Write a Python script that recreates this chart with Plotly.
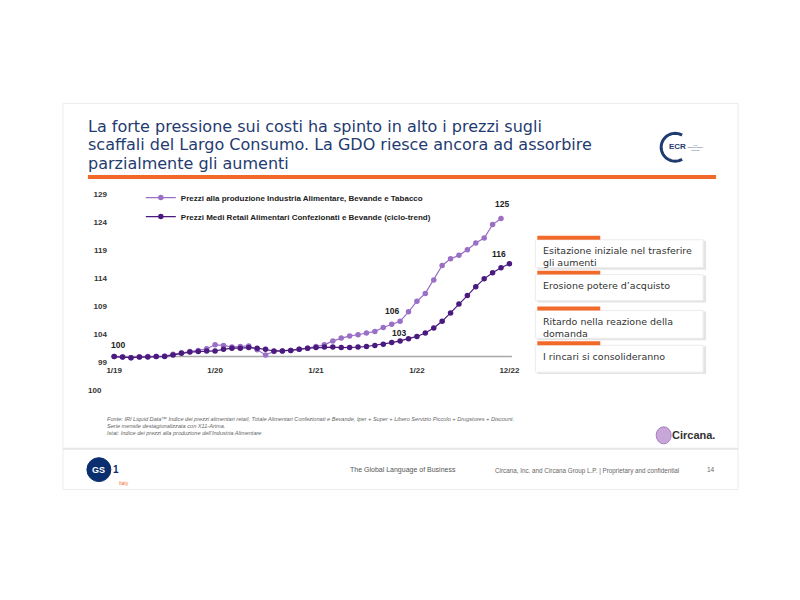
import plotly.graph_objects as go
import math

# ---------------- data ----------------
months = [f"{m}/{y}" for y in (19, 20, 21, 22) for m in range(1, 13)]

produzione = [100.0, 99.9, 99.8, 99.9, 100.0, 100.0, 100.1, 100.4, 100.7, 100.9,
              101.1, 101.4, 102.1, 102.0, 101.7, 101.8, 101.9, 101.2, 100.3, 100.9,
              101.0, 101.1, 101.3, 101.5, 101.8, 102.1, 102.8, 103.3, 103.7, 103.9,
              104.2, 104.5, 105.2, 105.8, 106.3, 108.0, 109.9, 111.3, 113.7, 116.3,
              117.5, 118.1, 119.1, 120.3, 121.2, 123.6, 124.7]

retail = [100.0, 99.9, 99.8, 99.9, 99.9, 100.0, 100.0, 100.3, 100.6, 100.8,
          100.9, 101.0, 101.0, 101.3, 101.5, 101.5, 101.6, 101.5, 101.3, 101.0,
          101.0, 101.1, 101.3, 101.5, 101.6, 101.7, 101.7, 101.6, 101.6, 101.7,
          101.8, 102.0, 102.2, 102.5, 102.8, 103.2, 103.6, 104.2, 105.1, 106.3,
          107.8, 109.4, 110.9, 112.5, 113.9, 115.0, 115.9, 116.6]

series_names = ["Prezzi alla produzione Industria Alimentare, Bevande e Tabacco",
                "Prezzi Medi Retail Alimentari Confezionati e Bevande (ciclo-trend)"]

x_ticks = ["1/19", "1/20", "1/21", "1/22", "12/22"]
y_ticks = [99, 104, 109, 114, 119, 124, 129]

# (series index, month label, text)
point_labels = [(1, "1/19", "100"), (0, "11/21", "106"), (1, "12/21", "103"),
                (0, "11/22", "125"), (1, "12/22", "116")]

title_lines = ["La forte pressione sui costi ha spinto in alto i prezzi sugli",
               "scaffali del Largo Consumo. La GDO riesce ancora ad assorbire",
               "parzialmente gli aumenti"]

box_texts = [["Esitazione iniziale nel trasferire", "gli aumenti"],
             ["Erosione potere d\u2019acquisto"],
             ["Ritardo nella reazione della", "domanda"],
             ["I rincari si consolideranno"]]

footnotes = ["Fonte: IRI Liquid Data\u2122 Indice dei prezzi alimentari retail, Totale Alimentari Confezionati e Bevande, Iper + Super + Libero Servizio Piccolo + Drugstores + Discount.",
             "Serie mensile destagionalizzata con X11-Arima.",
             "Istat: Indice dei prezzi alla produzione dell'Industria Alimentare"]

# ---------------- helpers ----------------
W, H = 800, 600
def X(p): return p / W
def Y(p): return 1 - p / H

LIGHT = "#9a6fc6"
DARK = "#4a1a7e"
NAVY = "#1f3b70"
ORANGE = "#f26a2a"
TXT = "Verdana, DejaVu Sans, sans-serif"
ARIAL = "Arial, Liberation Sans, sans-serif"

fig = go.Figure()
series = [produzione, retail]
colors = [LIGHT, DARK]
for name, vals, col in zip(series_names, series, colors):
    fig.add_trace(go.Scatter(
        x=months[:len(vals)], y=vals, name=name, mode="lines+markers",
        line=dict(color=col, width=1.2),
        marker=dict(color=col, size=5.5),
        hoverinfo="skip"))

shapes = []
annotations = []

# baseline at 100
shapes.append(dict(type="line", xref="x", yref="y", x0=-0.4, x1=47.3, y0=100, y1=100,
                   line=dict(color="#a8a8a8", width=1.5), layer="below"))

# slide frame
shapes.append(dict(type="rect", xref="paper", yref="paper", x0=X(62), x1=X(738),
                   y0=Y(492), y1=Y(104), line=dict(color="#ececec", width=1), layer="below"))

# title
for i, t in enumerate(title_lines):
    annotations.append(dict(text=t, xref="paper", yref="paper", x=X(85), y=Y(127 + i * 18.5),
                            xanchor="left", yanchor="middle", showarrow=False,
                            font=dict(family=TXT, size=16, color=NAVY)))

# orange rule
shapes.append(dict(type="rect", xref="paper", yref="paper", x0=X(87), x1=X(716),
                   y0=Y(180), y1=Y(176), fillcolor=ORANGE, line=dict(width=0)))

# ECR logo: arc
pts = []
cx, cy, r = 675, 148, 14
for k in range(0, 41):
    a = math.radians(60 + k * 6)  # from 60deg to 300deg, opening right
    px_ = cx + r * math.cos(a)
    py_ = cy - r * math.sin(a)
    pts.append((X(px_), Y(py_)))
path = "M " + " L ".join(f"{a:.5f},{b:.5f}" for a, b in pts)
shapes.append(dict(type="path", xref="paper", yref="paper", path=path,
                   line=dict(color=NAVY, width=3)))
annotations.append(dict(text="<b>ECR</b>", xref="paper", yref="paper", x=X(667), y=Y(147),
                        xanchor="left", yanchor="middle", showarrow=False,
                        font=dict(family=ARIAL, size=8, color=NAVY)))
annotations.append(dict(text="ITALY<br>Efficient Consumer<br>Response", xref="paper", yref="paper",
                        x=X(686), y=Y(148), xanchor="left", yanchor="middle", showarrow=False,
                        font=dict(family=ARIAL, size=1.8, color=NAVY)))

# extra "100" label under the axis
annotations.append(dict(text="<b>100</b>", xref="paper", yref="paper", x=X(103.5), y=Y(392),
                        xanchor="right", yanchor="middle", showarrow=False,
                        font=dict(family=ARIAL, size=8, color="#333")))

# point labels
offsets = {"100": (4, -12), "106": (-8, -10), "103": (-10, -6), "125": (1, -14), "116": (-10, -10)}
for si, m, t in point_labels:
    idx = months.index(m)
    dx, dy = offsets[t]
    annotations.append(dict(text=f"<b>{t}</b>", x=m, y=series[si][idx], xref="x", yref="y",
                            showarrow=False, xshift=dx, yshift=-dy,
                            font=dict(family=ARIAL, size=8.5, color="#222")))

# right-hand boxes
box_tops = [241, 276, 312, 347]
box_heights = [28, 26, 28, 27]
for top, hgt, lines in zip(box_tops, box_heights, box_texts):
    shapes.append(dict(type="rect", xref="paper", yref="paper", x0=X(537), x1=X(706),
                       y0=Y(top + hgt + 2), y1=Y(top + 1), fillcolor="#e4e4e4",
                       line=dict(width=0), layer="below"))
    shapes.append(dict(type="rect", xref="paper", yref="paper", x0=X(535), x1=X(703),
                       y0=Y(top + hgt), y1=Y(top), fillcolor="white",
                       line=dict(color="#ececec", width=1), layer="below"))
    shapes.append(dict(type="rect", xref="paper", yref="paper", x0=X(537), x1=X(600),
                       y0=Y(top), y1=Y(top - 4), fillcolor=ORANGE, line=dict(width=0)))
    for j, ln in enumerate(lines):
        annotations.append(dict(text=ln, xref="paper", yref="paper", x=X(541),
                                y=Y(top + 11 + j * 12), xanchor="left", yanchor="middle",
                                showarrow=False,
                                font=dict(family=TXT, size=9.5, color="#333")))

# footnotes
for j, ln in enumerate(footnotes):
    annotations.append(dict(text=f"<i>{ln}</i>", xref="paper", yref="paper", x=X(104),
                            y=Y(421 + j * 7), xanchor="left", yanchor="middle",
                            showarrow=False, font=dict(family=ARIAL, size=5.6, color="#666")))

# Circana logo
shapes.append(dict(type="circle", xref="paper", yref="paper", x0=X(656), x1=X(671),
                   y0=Y(446), y1=Y(429), fillcolor="#c9a6d8", line=dict(color="#a77bc4", width=1)))
annotations.append(dict(text="<b>Circana.</b>", xref="paper", yref="paper", x=X(670), y=Y(437),
                        xanchor="left", yanchor="middle", showarrow=False,
                        font=dict(family=ARIAL, size=11, color="#333")))

# separator
shapes.append(dict(type="line", xref="paper", yref="paper", x0=X(62), x1=X(738),
                   y0=Y(451), y1=Y(451), line=dict(color="#e6e6e6", width=2)))

# GS1 logo
shapes.append(dict(type="circle", xref="paper", yref="paper", x0=X(86), x1=X(110),
                   y0=Y(484), y1=Y(460), fillcolor="#0b2f6e", line=dict(color="#0b2f6e", width=1)))
annotations.append(dict(text="<b>GS</b>", xref="paper", yref="paper", x=X(98), y=Y(472),
                        xanchor="center", yanchor="middle", showarrow=False,
                        font=dict(family=ARIAL, size=9, color="white")))
annotations.append(dict(text="<b>1</b>", xref="paper", yref="paper", x=X(110), y=Y(472),
                        xanchor="left", yanchor="middle", showarrow=False,
                        font=dict(family=ARIAL, size=10, color="#0b2f6e")))
annotations.append(dict(text="Italy", xref="paper", yref="paper", x=X(116), y=Y(485),
                        xanchor="left", yanchor="middle", showarrow=False,
                        font=dict(family=ARIAL, size=5, color=ORANGE)))

# footer texts
annotations.append(dict(text="The Global Language of Business", xref="paper", yref="paper",
                        x=X(403), y=Y(472), xanchor="center", yanchor="middle", showarrow=False,
                        font=dict(family=ARIAL, size=7, color="#555")))
annotations.append(dict(text="Circana, Inc. and Circana Group L.P. | Proprietary and confidential",
                        xref="paper", yref="paper", x=X(587), y=Y(473), xanchor="center",
                        yanchor="middle", showarrow=False,
                        font=dict(family=ARIAL, size=6.3, color="#666")))
annotations.append(dict(text="14", xref="paper", yref="paper", x=X(711), y=Y(472),
                        xanchor="center", yanchor="middle", showarrow=False,
                        font=dict(family=ARIAL, size=6.5, color="#666")))

fig.update_layout(
    width=W, height=H, margin=dict(l=0, r=0, t=0, b=0),
    paper_bgcolor="white", plot_bgcolor="rgba(0,0,0,0)",
    showlegend=True,
    legend=dict(x=X(140), y=Y(184), xanchor="left", yanchor="top",
                bgcolor="rgba(0,0,0,0)", font=dict(family=ARIAL, size=8, color="#222", weight="bold"),
                itemwidth=30, tracegroupgap=0),
    xaxis=dict(domain=[X(107), X(520)], type="category", categoryorder="array",
               categoryarray=months, range=[-0.75, 48.3],
               tickvals=x_ticks, ticktext=[f"<b>{t}</b>" for t in x_ticks],
               tickfont=dict(family=ARIAL, size=8, color="#333"),
               showgrid=False, zeroline=False, showline=False, ticks=""),
    yaxis=dict(domain=[Y(366), Y(190)], range=[98.64, 129.96],
               tickvals=y_ticks, ticktext=[f"<b>{t}</b>" for t in y_ticks],
               tickfont=dict(family=ARIAL, size=8, color="#333"),
               showgrid=False, zeroline=False, showline=False, ticks=""),
    shapes=shapes, annotations=annotations,
)

fig.write_html("out.html")
